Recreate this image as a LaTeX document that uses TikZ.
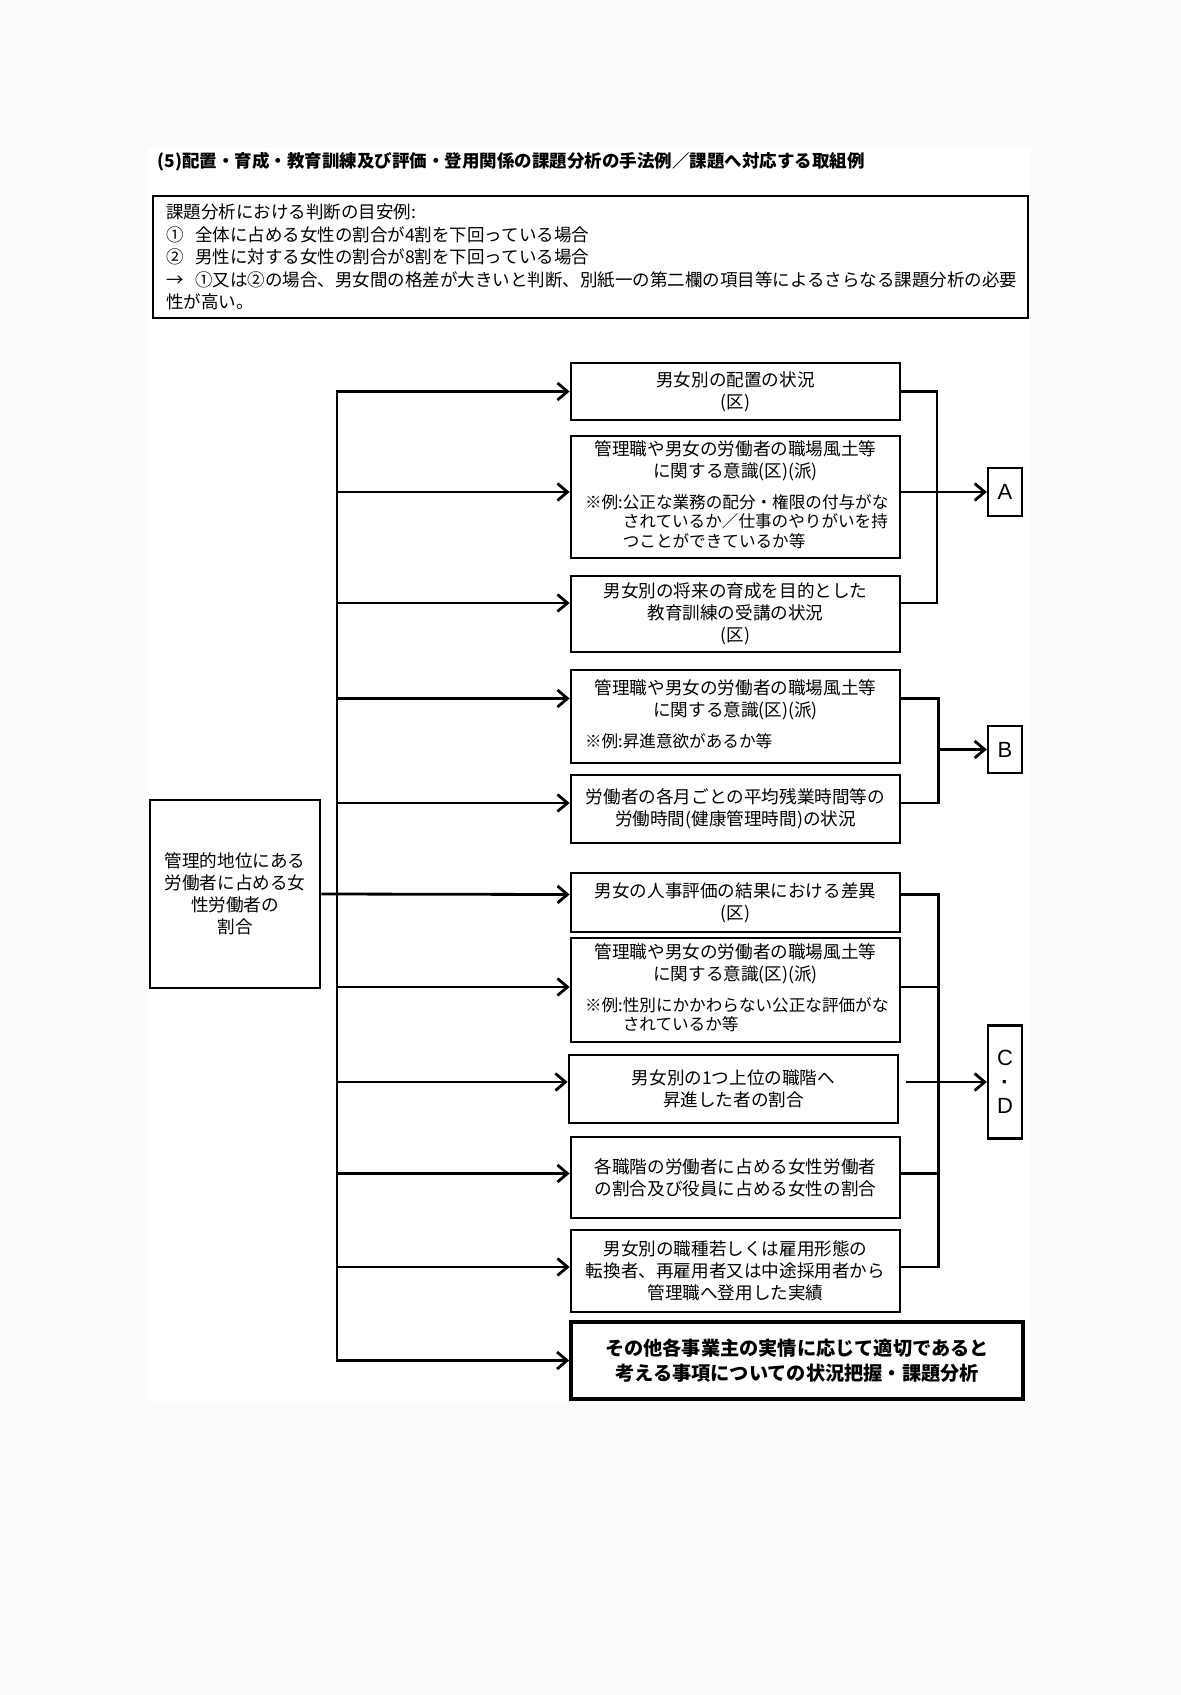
\documentclass[tikz,border=0pt]{standalone}
\usepackage{fontspec}
\setmainfont{Noto Sans CJK JP}
\newfontfamily\latinfont{Liberation Sans}
\usepackage{tikz}
\usetikzlibrary{positioning}
\usetikzlibrary{calc}
\usetikzlibrary{arrows.meta}
\definecolor{pagegray}{HTML}{FBFBFB}
\newcommand{\rei}[1]{\par\vspace{4.5pt}\makebox[\linewidth][l]{\hspace{5pt}\fontsize{8.3pt}{9.8pt}\selectfont\begin{tabular}[t]{@{}l@{}l@{}}#1\end{tabular}}}

\begin{document}
\begin{tikzpicture}[x=0.5pt, y=-0.5pt,
    box/.style={draw, line width=1.4pt, minimum width=164.5pt, text width=160.5pt, inner sep=2pt, align=center, font=\fontsize{8.8pt}{11pt}\selectfont},
    tag/.style={draw, line width=1.2pt, minimum width=17pt, inner sep=0pt, align=center, font=\latinfont\fontsize{11pt}{12pt}\selectfont},
    line/.style={line width=1.4pt},
    arr/.style={line width=1.4pt, -{Straight Barb[length=5pt,width=8.5pt]}}]
    \useasboundingbox[fill=pagegray] (0,0) rectangle (1181,1695);
    \fill[white] (148,148) rectangle (1030,1402);

    \node[anchor=west, inner sep=0pt, font=\bfseries\fontsize{8.75pt}{10pt}\selectfont] (title) at (157,162) {(5)配置・育成・教育訓練及び評価・登用関係の課題分析の手法例／課題へ対応する取組例};
    \node[draw, line width=0.7pt, minimum width=437.5pt, minimum height=61pt, text width=424.5pt, inner xsep=6.5pt, align=left, font=\fontsize{8.75pt}{11.2pt}\selectfont] (crit) at (590.5,257) {課題分析における判断の目安例:\\①\ \ 全体に占める女性の割合が4割を下回っている場合\\②\ \ 男性に対する女性の割合が8割を下回っている場合\\→\ \ ①又は②の場合、男女間の格差が大きいと判断、別紙一の第二欄の項目等によるさらなる課題分析の必要\\性が高い。};

    \node[box, minimum width=85pt, text width=81pt, minimum height=94pt] (lbox) at (235,894) {管理的地位にある\\労働者に占める女\\性労働者の\\割合};

    \node[box, minimum height=28.5pt] (b1) at (735.5,391.5) {男女別の配置の状況\\(区)};
    \node[box, minimum height=61pt] (b2) at (735.5,497) {管理職や男女の労働者の職場風土等\\に関する意識(区)(派)\rei{※例:&公正な業務の配分・権限の付与がな\\&されているか／仕事のやりがいを持\\&つことができているか等}};
    \node[box, minimum height=38pt] (b3) at (735.5,614) {男女別の将来の育成を目的とした\\教育訓練の受講の状況\\(区)};
    \node[box, minimum height=46.5pt] (b4) at (735.5,716.5) {管理職や男女の労働者の職場風土等\\に関する意識(区)(派)\rei{※例:&昇進意欲があるか等}};
    \node[box, minimum height=34pt] (b5) at (735.5,809) {労働者の各月ごとの平均残業時間等の\\労働時間(健康管理時間)の状況};
    \node[box, minimum height=29.5pt] (b6) at (735.5,902.5) {男女の人事評価の結果における差異\\(区)};
    \node[box, minimum height=52pt] (b7) at (735.5,990) {管理職や男女の労働者の職場風土等\\に関する意識(区)(派)\rei{※例:&性別にかかわらない公正な評価がな\\&されているか等}};
    \node[box, minimum height=34pt] (b8) at (733.5,1089) {男女別の1つ上位の職階へ\\昇進した者の割合};
    \node[box, minimum height=40.5pt] (b9) at (735.5,1177.5) {各職階の労働者に占める女性労働者\\の割合及び役員に占める女性の割合};
    \node[box, minimum height=41pt] (b10) at (735.5,1271) {男女別の職種若しくは雇用形態の\\転換者、再雇用者又は中途採用者から\\管理職へ登用した実績};
    \node[box, line width=1.8pt, minimum width=226pt, text width=222pt, minimum height=38.5pt, font=\bfseries\fontsize{9.6pt}{12.5pt}\selectfont] (b11) at (797,1360.5) {その他各事業主の実情に応じて適切であると\\考える事項についての状況把握・課題分析};

    \node[tag, minimum height=24pt] (A) at (1005,492) {A};
    \node[tag, minimum height=23.5pt] (B) at (1005,749.5) {B};
    \node[tag, minimum height=56.5pt] (CD) at (1005,1082) {C\\\textbf{·}\\D};

    \coordinate (tr) at (337,391);
    \coordinate (jx) at (937,0);
    \draw[line, line cap=rect] (tr) -- (tr |- b11.west);
    \draw[arr] (tr) |- (b1.west);
    \draw[arr] (tr) |- ([yshift=2.5pt]b2.west);
    \draw[arr] (tr) |- ([yshift=5.5pt]b3.west);
    \draw[arr] (tr) |- ([yshift=9pt]b4.west);
    \draw[arr] (tr) |- ([yshift=3pt]b5.west);
    \draw[arr] (lbox.east) -- ([yshift=4pt]b6.west);
    \draw[arr] (tr) |- ([yshift=1.5pt]b7.west);
    \draw[arr] (tr) |- ([yshift=3.5pt]b8.west);
    \draw[arr] (tr) |- ([yshift=2pt]b9.west);
    \draw[arr] (tr) |- ([yshift=2pt]b10.west);
    \draw[arr] (tr) |- (b11.west);

    \draw[line] (b1.east) -- (b1.east -| jx) |- ([yshift=5.5pt]b3.east);
    \draw[arr] ([yshift=2.5pt]b2.east) -- (A);
    \draw[line] ([yshift=9pt]b4.east) -- ++(37,0) |- ([yshift=3pt]b5.east);
    \draw[arr] (B -| jx) -- (B);
    \draw[line] ([yshift=4pt]b6.east) -- ++(37,0) |- ([yshift=2pt]b10.east);
    \draw[line] ([yshift=1.5pt]b7.east) -- ++(37,0);
    \draw[line] ([yshift=2pt]b9.east) -- ++(37,0);
    \draw[arr] ([xshift=3.5pt,yshift=3.5pt]b8.east) -- (CD);
\end{tikzpicture}
\end{document}
